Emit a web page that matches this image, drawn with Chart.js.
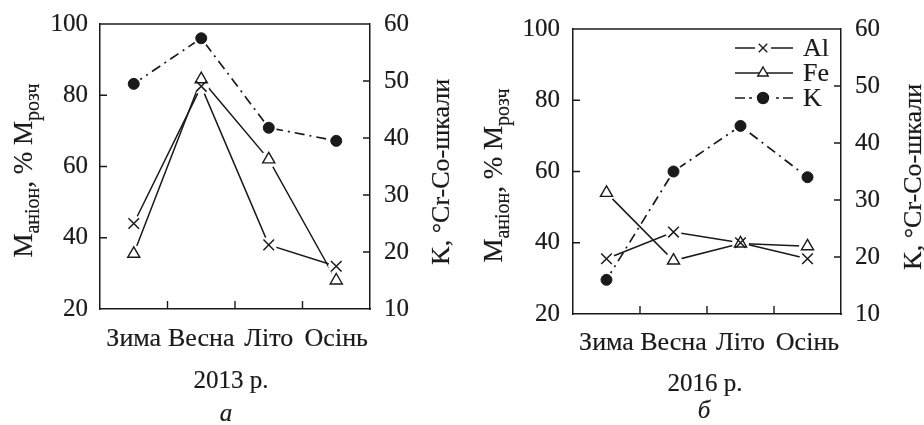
<!DOCTYPE html>
<html><head><meta charset="utf-8">
<script src="https://cdn.jsdelivr.net/npm/chart.js@4.4.0/dist/chart.umd.min.js"></script>
<style>
html,body{margin:0;padding:0;background:#fff;}
#wrap{position:relative;width:924px;height:425px;overflow:hidden;background:#fff;}
.pane{position:absolute;top:0;width:462px;height:425px;}
canvas{display:block;}
</style></head><body>
<div id="wrap">
<div class="pane" style="left:0"><canvas id="cA" width="462" height="425"></canvas></div>
<div class="pane" style="left:462px"><canvas id="cB" width="462" height="425"></canvas></div>
</div>
<script>
// ---- data ----
const categories = ['Зима', 'Весна', 'Літо', 'Осінь'];
const al2013 = [44, 82.5, 38, 32];
const fe2013 = [35.5, 84.5, 62, 28];
const k2013  = [49.5, 57.5, 41.8, 39.5];
const al2016 = [35.5, 43, 40, 35.5];
const fe2016 = [54, 35, 39.8, 39];
const k2016  = [16, 35, 43, 34];
const leftTicks  = [20, 40, 60, 80, 100];
const rightTicks = [10, 20, 30, 40, 50, 60];
const seriesNames = ['Al', 'Fe', 'K'];
const yearLabels = ['2013 р.', '2016 р.'];
const panelLetters = ['а', 'б'];
const leftTitle = [['M', 0], ['аніон', 1], [', % M', 0], ['розч', 1]];
const rightTitle = 'K, °Cr-Co-шкали';

const FONT = '"Liberation Serif", "Times New Roman", serif';
const BLACK = '#1a1a1a';

function makeDatasets(al, fe, k) {
  return [
    {label: seriesNames[0], data: al, yAxisID: 'y', borderColor: BLACK, borderWidth: 1.5,
     pointStyle: 'crossRot', pointRadius: 7.5, pointHoverRadius: 7.5, pointBorderWidth: 1.5,
     pointBorderColor: BLACK, pointBackgroundColor: '#fff', tension: 0, fill: false, halo: 8},
    {label: seriesNames[1], data: fe, yAxisID: 'y', borderColor: BLACK, borderWidth: 1.5,
     pointStyle: 'triangle', pointRadius: 7, pointHoverRadius: 7, pointBorderWidth: 1.4,
     pointBorderColor: BLACK, pointBackgroundColor: '#fff', tension: 0, fill: false, halo: 8.5},
    {label: seriesNames[2], data: k, yAxisID: 'y1', borderColor: BLACK, borderWidth: 1.7,
     borderDash: [10, 5, 2, 5], pointStyle: 'circle', pointRadius: 5.5, pointHoverRadius: 5.5,
     pointBorderWidth: 1, pointBorderColor: BLACK, pointBackgroundColor: BLACK, tension: 0, fill: false, halo: 8}
  ];
}

function fillStrokeText(ctx, t, x, y) {
  ctx.fillText(t, x, y);
  ctx.lineWidth = 0.2; ctx.strokeText(t, x, y);
}

const decor = {
  id: 'decor',
  afterDatasetsDraw(chart) {
    const ctx = chart.ctx;
    ctx.save();
    ctx.fillStyle = '#fff';
    chart.data.datasets.forEach((ds, i) => {
      chart.getDatasetMeta(i).data.forEach(el => {
        ctx.beginPath(); ctx.arc(el.x, el.y, ds.halo, 0, Math.PI * 2); ctx.fill();
      });
    });
    ctx.restore();
    for (let i = chart.data.datasets.length - 1; i >= 0; i--) {
      chart.getDatasetMeta(i).data.forEach(el => el.draw(ctx, chart.chartArea));
    }
  },
  afterDraw(chart, args, o) {
    const {ctx, chartArea: a} = chart;
    const xs = chart.scales.x, ys = chart.scales.y, y1 = chart.scales.y1;
    ctx.save();
    ctx.strokeStyle = BLACK; ctx.fillStyle = BLACK; ctx.lineWidth = 1.5;
    ctx.beginPath();
    ctx.moveTo(a.left, a.top); ctx.lineTo(a.right, a.top);
    ctx.stroke();
    ctx.lineWidth = 1.4;
    ctx.beginPath();
    for (let i = 0; i < categories.length - 1; i++) {
      const px = (xs.getPixelForValue(i) + xs.getPixelForValue(i + 1)) / 2;
      ctx.moveTo(px, a.bottom); ctx.lineTo(px, a.bottom - 8);
    }
    leftTicks.slice(1, -1).forEach(v => { const py = ys.getPixelForValue(v); ctx.moveTo(a.left, py); ctx.lineTo(a.left + 7, py); });
    rightTicks.slice(1, -1).forEach(v => { const py = y1.getPixelForValue(v); ctx.moveTo(a.right, py); ctx.lineTo(a.right - 7, py); });
    ctx.stroke();

    // left title (rotated, with subscripts)
    ctx.save();
    ctx.translate(o.lt[0], o.lt[1]);
    ctx.rotate(-Math.PI / 2);
    ctx.textAlign = 'left'; ctx.textBaseline = 'alphabetic';
    let total = 0;
    const parts = leftTitle.map(([t, sub]) => {
      ctx.font = (sub ? 20 : 27) + 'px ' + FONT;
      const w = ctx.measureText(t).width; total += w;
      return {t, sub, w};
    });
    let xx = -total / 2;
    parts.forEach(p => {
      ctx.font = (p.sub ? 20 : 27) + 'px ' + FONT;
      fillStrokeText(ctx, p.t, xx, p.sub ? 7 : 0);
      xx += p.w;
    });
    ctx.restore();

    // right title
    ctx.save();
    ctx.translate(o.rt[0], o.rt[1]);
    ctx.rotate(-Math.PI / 2);
    ctx.textAlign = 'center'; ctx.textBaseline = 'alphabetic';
    ctx.font = '26px ' + FONT;
    fillStrokeText(ctx, rightTitle, 0, 0);
    ctx.restore();

    // x title and panel letter
    ctx.textAlign = 'center'; ctx.textBaseline = 'alphabetic';
    ctx.font = '25px ' + FONT;
    fillStrokeText(ctx, o.year, o.yt[0], o.yt[1]);
    ctx.font = 'italic 25px ' + FONT;
    fillStrokeText(ctx, o.letter, o.pl[0], o.pl[1]);

    // legend
    if (o.legend) {
      const [lx0, lx1, mx, tx, ys0, dy] = o.legend;
      ctx.textAlign = 'left';
      chart.data.datasets.forEach((ds, i) => {
        const yy = ys0 + i * dy;
        ctx.lineWidth = 1.4;
        ctx.strokeStyle = BLACK;
        ctx.beginPath();
        if (i === 0) {
          ctx.moveTo(lx0, yy); ctx.lineTo(mx - 8, yy);
          ctx.moveTo(mx + 8, yy); ctx.lineTo(lx1, yy);
        } else if (i === 1) {
          ctx.moveTo(lx0, yy); ctx.lineTo(lx1, yy);
        } else {
          ctx.moveTo(lx0, yy); ctx.lineTo(lx0 + 10, yy);
          ctx.moveTo(lx0 + 14, yy); ctx.lineTo(lx0 + 17, yy);
          ctx.moveTo(lx1 - 17, yy); ctx.lineTo(lx1 - 14, yy);
          ctx.moveTo(lx1 - 10, yy); ctx.lineTo(lx1, yy);
        }
        ctx.stroke();
        ctx.fillStyle = i === 2 ? BLACK : '#fff';
        ctx.strokeStyle = BLACK;
        ctx.lineWidth = 1.4;
        const r = i === 0 ? 6 : (i === 1 ? 6 : 5.5);
        Chart.helpers.drawPoint(ctx, {pointStyle: ds.pointStyle, radius: r, borderWidth: 1.4}, mx, yy);
        ctx.fillStyle = BLACK;
        ctx.font = '26px ' + FONT;
        fillStrokeText(ctx, ds.label, tx, yy + 8);
      });
    }
    ctx.restore();
  }
};

function makeChart(id, al, fe, k, g) {
  const W = 462, H = 425;
  const yFont = {family: FONT, size: 25, lineHeight: 0.8};
  const tickCommon = {color: BLACK, textStrokeColor: BLACK, textStrokeWidth: 0.2};
  return new Chart(document.getElementById(id), {
    type: 'line',
    data: {labels: categories, datasets: makeDatasets(al, fe, k)},
    plugins: [decor],
    options: {
      responsive: false, animation: false, devicePixelRatio: 1,
      layout: {padding: {top: g.top, left: 0, right: 0, bottom: 0}},
      plugins: {
        legend: {display: false}, tooltip: {enabled: false}, title: {display: false},
        decor: {lt: g.lt, rt: g.rt, yt: g.yt, pl: g.pl, year: g.year, letter: g.letter, legend: g.legend}
      },
      scales: {
        x: {
          type: 'category', offset: true,
          grid: {display: false, drawTicks: false}, border: {display: true, color: BLACK, width: 1.5},
          ticks: Object.assign({font: {family: FONT, size: 26}, padding: g.xPad, maxRotation: 0, minRotation: 0, autoSkip: false}, tickCommon),
          afterFit(s) { s.height = H - g.bottom; }
        },
        y: {
          position: 'left', min: leftTicks[0], max: leftTicks[leftTicks.length - 1],
          afterBuildTicks(s) { s.ticks = leftTicks.map(v => ({value: v})); },
          grid: {display: false, drawTicks: false}, border: {display: true, color: BLACK, width: 1.5},
          ticks: Object.assign({font: yFont, padding: g.yPad}, tickCommon),
          afterFit(s) { s.width = g.left; }
        },
        y1: {
          position: 'right', min: rightTicks[0], max: rightTicks[rightTicks.length - 1],
          afterBuildTicks(s) { s.ticks = rightTicks.map(v => ({value: v})); },
          grid: {display: false, drawTicks: false}, border: {display: true, color: BLACK, width: 1.5},
          ticks: Object.assign({font: yFont, padding: g.y1Pad}, tickCommon),
          afterFit(s) { s.width = W - g.right; }
        }
      }
    }
  });
}

makeChart('cA', al2013, fe2013, k2013, {
  left: 100, right: 370, top: 24, bottom: 309, xPad: 15, yPad: 12, y1Pad: 14,
  lt: [32, 170.5], rt: [449, 172], yt: [231, 388], pl: [226, 421],
  year: yearLabels[0], letter: panelLetters[0], legend: null
});
makeChart('cB', al2016, fe2016, k2016, {
  left: 111, right: 379, top: 29, bottom: 314, xPad: 14, yPad: 13, y1Pad: 14,
  lt: [40, 175.5], rt: [458.5, 177], yt: [243, 391], pl: [242, 418],
  year: yearLabels[1], letter: panelLetters[1], legend: [273, 331, 301, 341, 48, 25]
});
</script>
</body></html>
